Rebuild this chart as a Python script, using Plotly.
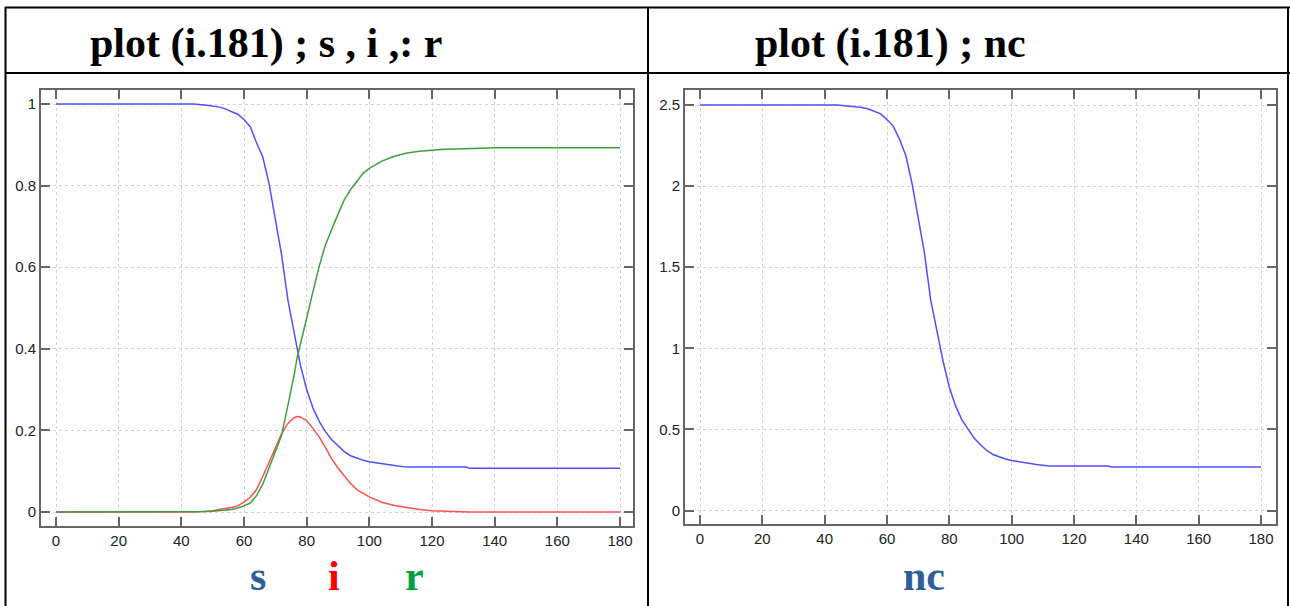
import plotly.graph_objects as go

# ---------------- data ----------------
t = [0, 10, 20, 30, 40, 44, 48, 50, 52, 54, 56, 58, 60, 62, 64, 66, 68, 70, 72, 74, 76, 77, 78,
     80, 82, 84, 86, 88, 90, 92, 94, 96, 98, 100, 104, 108, 112, 116, 120, 124, 128, 131, 132,
     136, 140, 150, 160, 170, 180]

s = [1.0, 1.0, 1.0, 1.0, 1.0, 1.0, 0.997, 0.995, 0.993, 0.988, 0.982, 0.975, 0.962, 0.944, 0.905,
     0.87, 0.805, 0.72, 0.63, 0.52, 0.44, 0.40, 0.36,
     0.30, 0.255, 0.222, 0.197, 0.177, 0.162, 0.148, 0.138, 0.132, 0.127, 0.123, 0.118, 0.114, 0.11,
     0.11, 0.11, 0.11, 0.11, 0.11, 0.107, 0.107, 0.107, 0.107, 0.107, 0.107, 0.107]

i_vals = [0.0, 0.0, 0.0, 0.0, 0.0, 0.0, 0.002, 0.003, 0.006, 0.008, 0.011, 0.015, 0.024, 0.036, 0.055,
          0.087, 0.12, 0.157, 0.192, 0.217, 0.231, 0.234, 0.233,
          0.224, 0.205, 0.184, 0.158, 0.13, 0.108, 0.088, 0.07, 0.055, 0.045, 0.037, 0.024, 0.016, 0.011,
          0.006, 0.003, 0.002, 0.0, 0.0, 0.0, 0.0, 0.0, 0.0, 0.0, 0.0, 0.0]

r = [0.0, 0.0, 0.0, 0.0, 0.0, 0.0, 0.001, 0.002, 0.003, 0.004, 0.006, 0.01, 0.015, 0.022, 0.04,
     0.068, 0.11, 0.148, 0.188, 0.26, 0.335, 0.38, 0.41,
     0.475, 0.54, 0.602, 0.655, 0.695, 0.73, 0.765, 0.79, 0.81, 0.83, 0.842, 0.86, 0.872, 0.88,
     0.884, 0.887, 0.889, 0.89, 0.891, 0.891, 0.891, 0.893, 0.893, 0.893, 0.893, 0.893]

nc = [2.5, 2.5, 2.5, 2.5, 2.5, 2.5, 2.493, 2.49, 2.485, 2.475, 2.46, 2.445, 2.41, 2.37, 2.29,
      2.19, 2.02, 1.81, 1.59, 1.3, 1.1, 1.0, 0.92,
      0.76, 0.645, 0.56, 0.5, 0.445, 0.405, 0.37, 0.345, 0.33, 0.318, 0.308, 0.295, 0.284, 0.274,
      0.274, 0.274, 0.274, 0.274, 0.274, 0.268, 0.268, 0.268, 0.268, 0.268, 0.268, 0.268]

x_ticks = [0, 20, 40, 60, 80, 100, 120, 140, 160, 180]
y1_ticks = [0, 0.2, 0.4, 0.6, 0.8, 1]
y1_text = ["0", "0.2", "0.4", "0.6", "0.8", "1"]
y2_ticks = [0, 0.5, 1, 1.5, 2, 2.5]
y2_text = ["0", "0.5", "1", "1.5", "2", "2.5"]

title_left = "plot (i.181) ; s , i ,: r"
title_right = "plot (i.181) ; nc"

# ---------------- figure ----------------
W, H = 1290, 606
def PX(x):
    return x / W
def PY(y):
    return 1 - y / H

BLUE = "#4f4fff"
RED = "#ff4f4f"
GREEN = "#3f9f3f"

fig = go.Figure()
fig.add_trace(go.Scatter(x=t, y=s, mode="lines", line=dict(color=BLUE, width=1.5),
                         xaxis="x", yaxis="y", showlegend=False, hoverinfo="skip"))
fig.add_trace(go.Scatter(x=t, y=i_vals, mode="lines", line=dict(color=RED, width=1.5),
                         xaxis="x", yaxis="y", showlegend=False, hoverinfo="skip"))
fig.add_trace(go.Scatter(x=t, y=r, mode="lines", line=dict(color=GREEN, width=1.5),
                         xaxis="x", yaxis="y", showlegend=False, hoverinfo="skip"))
fig.add_trace(go.Scatter(x=t, y=nc, mode="lines", line=dict(color=BLUE, width=1.5),
                         xaxis="x2", yaxis="y2", showlegend=False, hoverinfo="skip"))

FRAME = "#666666"
common = dict(showline=True, linecolor=FRAME, linewidth=2, mirror="ticks",
              ticks="inside", ticklen=9, tickwidth=2, tickcolor=FRAME,
              showgrid=True, gridcolor="#d2d2d2", griddash="dot", gridwidth=1,
              zeroline=False, fixedrange=True,
              tickfont=dict(family="Liberation Sans, Arial, sans-serif", size=15, color="#222222"))

# left panel pixel geometry
L_left, L_right, L_top, L_bot = 41, 633, 90, 526
Lx0, Lx180 = 56, 620
Ly0, Ly1 = 512, 104
lxs = (Lx180 - Lx0) / 180.0
lys = (Ly0 - Ly1) / 1.0
# right panel pixel geometry
R_left, R_right, R_top, R_bot = 685, 1276, 90, 524
Rx0, Rx180 = 700, 1261
Ry0, Ry25 = 510.5, 105
rxs = (Rx180 - Rx0) / 180.0
rys = (Ry0 - Ry25) / 2.5

fig.update_layout(
    width=W, height=H, margin=dict(l=0, r=0, t=0, b=0),
    paper_bgcolor="white", plot_bgcolor="white",
    xaxis=dict(domain=[PX(L_left), PX(L_right)], anchor="y",
               range=[-(Lx0 - L_left) / lxs, 180 + (L_right - Lx180) / lxs],
               tickvals=x_ticks, ticktext=[str(v) for v in x_ticks], **common),
    yaxis=dict(domain=[PY(L_bot), PY(L_top)], anchor="x",
               range=[-(L_bot - Ly0) / lys, 1 + (Ly1 - L_top) / lys],
               tickvals=y1_ticks, ticktext=y1_text, **common),
    xaxis2=dict(domain=[PX(R_left), PX(R_right)], anchor="y2",
                range=[-(Rx0 - R_left) / rxs, 180 + (R_right - Rx180) / rxs],
                tickvals=x_ticks, ticktext=[str(v) for v in x_ticks], **common),
    yaxis2=dict(domain=[PY(R_bot), PY(R_top)], anchor="x2",
                range=[-(R_bot - Ry0) / rys, 2.5 + (Ry25 - R_top) / rys],
                tickvals=y2_ticks, ticktext=y2_text, **common),
)

# table lines
TL = dict(color="black", width=2)
shapes = [
    dict(type="line", xref="paper", yref="paper", x0=PX(5), x1=PX(1290), y0=PY(7.5), y1=PY(7.5), line=TL),
    dict(type="line", xref="paper", yref="paper", x0=PX(5), x1=PX(1290), y0=PY(73), y1=PY(73), line=TL),
    dict(type="line", xref="paper", yref="paper", x0=PX(5.5), x1=PX(5.5), y0=PY(7), y1=PY(606), line=TL),
    dict(type="line", xref="paper", yref="paper", x0=PX(648), x1=PX(648), y0=PY(7), y1=PY(606), line=TL),
    dict(type="line", xref="paper", yref="paper", x0=PX(1288), x1=PX(1288), y0=PY(7), y1=PY(606), line=TL),
]
fig.update_layout(shapes=shapes)

SERIF = "Liberation Serif, Times New Roman, serif"
ann = []
ann.append(dict(text="<b>%s</b>" % title_left, x=PX(88), y=PY(44), xref="paper", yref="paper",
                xanchor="left", yanchor="middle", showarrow=False,
                font=dict(family=SERIF, size=42, color="black")))
ann.append(dict(text="<b>%s</b>" % title_right, x=PX(753), y=PY(44), xref="paper", yref="paper",
                xanchor="left", yanchor="middle", showarrow=False,
                font=dict(family=SERIF, size=42, color="black")))
LBL_BLUE = "#2e5f9c"
for txt, cx, col in [("s", 257.5, LBL_BLUE), ("i", 334, "#ff0000"), ("r", 414.5, "#00a040"), ("nc", 923.5, LBL_BLUE)]:
    ann.append(dict(text="<b>%s</b>" % txt, x=PX(cx), y=PY(576), xref="paper", yref="paper",
                    xanchor="center", yanchor="middle", showarrow=False,
                    font=dict(family=SERIF, size=42, color=col)))
fig.update_layout(annotations=ann)

fig.write_html("out.html")
